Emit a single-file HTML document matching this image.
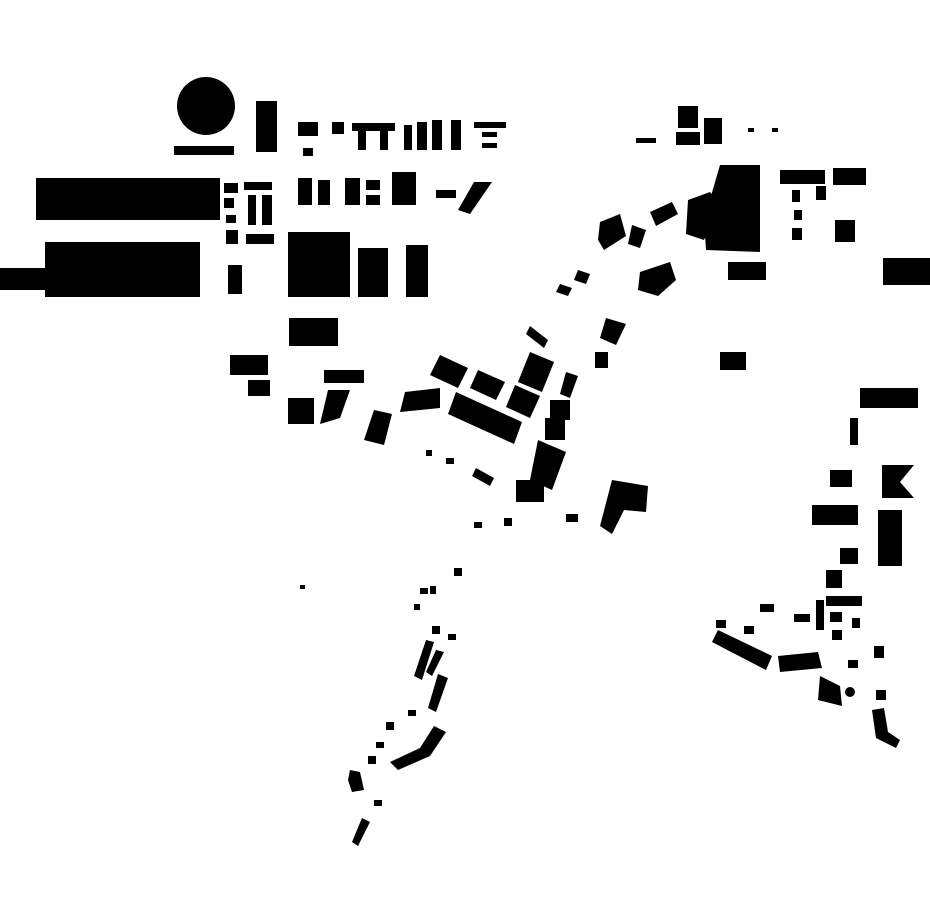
<!DOCTYPE html>
<html><head><meta charset="utf-8"><style>html,body{margin:0;padding:0;background:#fff;width:930px;height:924px;overflow:hidden}svg{display:block}</style></head>
<body>
<svg width="930" height="924" viewBox="0 0 930 924" xmlns="http://www.w3.org/2000/svg" fill="#000">
<!-- top-left -->
<circle cx="206" cy="106" r="29"/>
<rect x="174" y="146" width="60" height="9"/>
<rect x="256" y="101" width="21" height="51"/>
<rect x="298" y="122" width="20" height="14"/>
<rect x="303" y="148" width="10" height="8"/>
<rect x="332" y="122" width="12" height="12"/>
<rect x="352" y="123" width="43" height="8"/>
<rect x="358" y="131" width="8" height="19"/>
<rect x="380" y="131" width="8" height="19"/>
<rect x="404" y="125" width="8" height="25"/>
<rect x="417" y="122" width="10" height="28"/>
<rect x="432" y="120" width="10" height="30"/>
<rect x="451" y="120" width="10" height="30"/>
<rect x="474" y="122" width="32" height="6"/>
<rect x="482" y="132" width="15" height="5"/>
<rect x="482" y="143" width="15" height="5"/>
<rect x="36" y="178" width="184" height="42"/>
<rect x="0" y="268" width="50" height="22"/>
<rect x="45" y="242" width="155" height="55"/>
<rect x="224" y="183" width="14" height="10"/>
<rect x="244" y="182" width="28" height="8"/>
<rect x="224" y="198" width="10" height="10"/>
<rect x="248" y="195" width="8" height="30"/>
<rect x="262" y="195" width="10" height="30"/>
<rect x="226" y="215" width="10" height="8"/>
<rect x="226" y="230" width="12" height="14"/>
<rect x="246" y="234" width="28" height="10"/>
<rect x="228" y="265" width="14" height="29"/>
<rect x="298" y="178" width="14" height="27"/>
<rect x="318" y="180" width="12" height="25"/>
<rect x="345" y="178" width="15" height="27"/>
<rect x="366" y="180" width="14" height="10"/>
<rect x="366" y="195" width="14" height="10"/>
<rect x="392" y="172" width="24" height="33"/>
<rect x="436" y="190" width="20" height="8"/>
<polygon points="474,182 492,182 470,214 458,210"/>
<rect x="288" y="232" width="62" height="65"/>
<rect x="358" y="248" width="30" height="49"/>
<rect x="406" y="245" width="22" height="52"/>
<rect x="289" y="318" width="49" height="28"/>
<rect x="230" y="355" width="38" height="20"/>
<rect x="248" y="380" width="22" height="16"/>
<rect x="288" y="398" width="26" height="26"/>
<polygon points="328,390 350,390 340,418 320,424"/>
<rect x="324" y="370" width="40" height="13"/>
<!-- middle cluster -->
<polygon points="440,355 468,368 458,388 430,375"/>
<polygon points="478,370 505,382 496,400 470,388"/>
<polygon points="530,352 554,362 542,392 518,382"/>
<polygon points="515,385 540,396 530,418 506,407"/>
<polygon points="456,392 522,422 514,444 448,414"/>
<polygon points="405,392 440,388 440,408 400,412"/>
<polygon points="374,410 392,414 384,445 364,440"/>
<polygon points="530,326 548,340 544,348 526,334"/>
<polygon points="566,372 578,376 570,398 560,394"/>
<rect x="550" y="400" width="20" height="20"/>
<rect x="545" y="418" width="20" height="22"/>
<polygon points="538,440 566,452 552,490 530,480"/>
<rect x="516" y="480" width="28" height="22"/>
<rect x="595" y="352" width="13" height="16"/>
<polygon points="606,318 626,324 616,345 600,338"/>
<rect x="426" y="450" width="6" height="6"/><rect x="446" y="458" width="8" height="6"/>
<polygon points="476,468 494,478 490,486 472,476"/>
<!-- NE diagonal -->
<polygon points="560,284 572,288 568,296 556,292"/>
<polygon points="578,270 590,274 586,284 574,280"/>
<polygon points="600,222 620,214 626,236 604,250 598,240"/>
<polygon points="632,225 646,230 640,248 628,244"/>
<polygon points="650,212 672,202 678,214 656,226"/>
<polygon points="640,272 670,262 676,280 658,296 638,290"/>
<polygon points="688,200 710,192 720,204 704,240 686,234"/>
<polygon points="720,165 760,165 760,252 706,250 704,220"/>
<rect x="728" y="262" width="38" height="18"/>
<rect x="780" y="170" width="45" height="14"/>
<rect x="833" y="168" width="33" height="17"/>
<rect x="835" y="220" width="20" height="22"/>
<rect x="792" y="190" width="8" height="12"/><rect x="794" y="210" width="8" height="10"/><rect x="792" y="228" width="10" height="12"/>
<rect x="816" y="186" width="10" height="14"/>
<rect x="883" y="258" width="47" height="27"/>
<rect x="720" y="352" width="26" height="18"/>
<rect x="860" y="388" width="58" height="20"/>
<rect x="850" y="418" width="8" height="27"/>
<rect x="830" y="470" width="22" height="17"/>
<polygon points="882,465 914,465 900,482 914,498 882,498"/>
<rect x="812" y="505" width="46" height="20"/>
<rect x="878" y="510" width="24" height="56"/>
<rect x="840" y="548" width="18" height="16"/>
<rect x="826" y="570" width="16" height="18"/>
<rect x="826" y="596" width="36" height="10"/>
<rect x="816" y="600" width="8" height="30"/>
<rect x="830" y="612" width="12" height="10"/>
<rect x="832" y="630" width="10" height="10"/>
<rect x="852" y="618" width="8" height="10"/>
<polygon points="718,630 772,656 766,670 712,642"/>
<polygon points="778,656 818,652 822,668 780,672"/>
<polygon points="820,676 840,686 842,706 818,700"/>
<circle cx="850" cy="692" r="5"/>
<rect x="874" y="646" width="10" height="12"/>
<rect x="876" y="690" width="10" height="10"/>
<polygon points="872,710 884,708 888,732 900,740 896,748 876,738"/>
<rect x="760" y="604" width="14" height="8"/><rect x="794" y="614" width="16" height="8"/>
<rect x="744" y="626" width="10" height="8"/><rect x="716" y="620" width="10" height="8"/>
<rect x="848" y="660" width="10" height="8"/>
<!-- top middle -->
<rect x="678" y="106" width="20" height="22"/>
<rect x="676" y="132" width="24" height="13"/>
<rect x="704" y="118" width="18" height="26"/>
<rect x="636" y="138" width="20" height="5"/>
<rect x="748" y="128" width="6" height="4"/><rect x="772" y="128" width="6" height="4"/>
<!-- lower diagonal -->
<polygon points="612,480 648,486 646,512 624,510 612,534 600,526"/>
<rect x="566" y="514" width="12" height="8"/>
<rect x="504" y="518" width="8" height="8"/>
<rect x="474" y="522" width="8" height="6"/>
<rect x="454" y="568" width="8" height="8"/>
<rect x="420" y="588" width="8" height="6"/><rect x="430" y="586" width="6" height="8"/><rect x="414" y="604" width="6" height="6"/>
<rect x="300" y="585" width="5" height="4"/>
<polygon points="426,640 434,642 422,680 414,676"/>
<polygon points="436,650 444,652 432,676 426,672"/>
<polygon points="438,674 448,678 436,712 428,708"/>
<rect x="432" y="626" width="8" height="8"/><rect x="448" y="634" width="8" height="6"/>
<polygon points="434,726 446,732 430,756 398,770 390,762 420,748"/>
<rect x="408" y="710" width="8" height="6"/><rect x="386" y="722" width="8" height="8"/>
<rect x="376" y="742" width="8" height="6"/><rect x="368" y="756" width="8" height="8"/>
<polygon points="350,770 360,772 364,790 352,792 348,780"/>
<rect x="374" y="800" width="8" height="6"/>
<polygon points="362,818 370,822 358,846 352,842"/>
</svg>
</body></html>
